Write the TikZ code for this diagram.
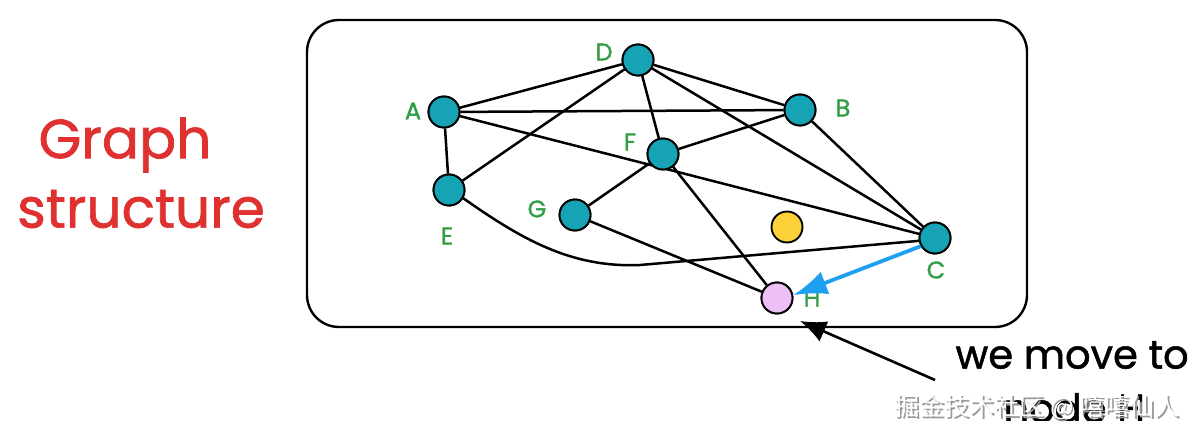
\documentclass[tikz,border=0pt]{standalone}
\usepackage{fontspec}
\setmainfont{Poppins}
\newfontfamily\hand[FakeBold=1.3]{Poppins}
\newfontfamily\cjk{Noto Sans CJK SC}
\usetikzlibrary{arrows.meta}
\definecolor{teal}{HTML}{15A3B5}
\definecolor{ylw}{HTML}{FDD13A}
\definecolor{pnk}{HTML}{EEC0F7}
\definecolor{grn}{HTML}{2F9E44}
\definecolor{rd}{HTML}{E03131}
\definecolor{blu}{HTML}{1EA0F0}
\tikzset{
  vert/.style={circle, draw=black, line width=1.9pt, fill=teal, minimum size=31pt, inner sep=0pt},
  lbl/.style={text=grn, font=\hand\fontsize{24}{24}\selectfont},
  edge/.style={draw=black, line width=2.5pt},
  bigtxt/.style={font=\hand\fontsize{40}{40}\selectfont},
}
\begin{document}
\begin{tikzpicture}[x=1pt,y=-1pt]
\useasboundingbox (0,0) rectangle (1196,435);
% frame
\draw[line width=2.4pt, rounded corners=32pt] (307,20) rectangle (1027,327);
% nodes
\node[vert] (D) at (638,60) {};
\node[vert] (A) at (444,112) {};
\node[vert] (B) at (800,110) {};
\node[vert] (F) at (663,154) {};
\node[vert] (E) at (449,190) {};
\node[vert] (G) at (575,215) {};
\node[vert] (C) at (935,238) {};
\node[vert, fill=ylw] (Y) at (787,227) {};
\node[vert, fill=pnk] (H) at (777,298) {};
% labels
\node[lbl] (lD) at (604,52) {D};
\node[lbl] (lA) at (413,111) {A};
\node[lbl] (lB) at (843,108) {B};
\node[lbl] (lF) at (630,142) {F};
\node[lbl] (lE) at (447,236) {E};
\node[lbl] (lG) at (537,209) {G};
\node[lbl] (lC) at (936,270) {C};
\node[lbl] (lH) at (812,298) {H};
% edges
\draw[edge] (A) -- (D);
\draw[edge] (D) -- (B);
\draw[edge] (A) -- (B);
\draw[edge] (A) -- (E);
\draw[edge] (D) -- (E);
\draw[edge] (D) -- (F);
\draw[edge] (D) -- (C);
\draw[edge] (B) -- (F);
\draw[edge] (B) -- (C);
\draw[edge] (A) -- (C);
\draw[edge] (F) -- (G);
\draw[edge] (F) -- (H);
\draw[edge] (G) -- (H);
\draw[edge] (E.-30) .. controls (520,238) and (570,268) .. (640,265) -- (C.-170);
% redraw nodes on top
\node[vert] at (D) {};
\node[vert] at (A) {};
\node[vert] at (B) {};
\node[vert] at (F) {};
\node[vert] at (E) {};
\node[vert] at (G) {};
\node[vert] at (C) {};
\node[vert, fill=pnk] at (H) {};
% blue arrow
\draw[blu, line width=3.8pt, -{Latex[length=34pt,width=24pt]}] (C.-150) -- (H.10);
% title
\node[text=rd, font=\hand\fontsize{55}{55}\selectfont] (t1) at (125,145) {Graph};
\node[text=rd, font=\hand\fontsize{55}{55}\selectfont] (t2) at (141,209) {structure};
% annotation
\node[bigtxt, anchor=west] (w1) at (952,355) {we move to};
\begin{scope}
\clip (940,370) rectangle (1196,420);
\node[bigtxt, anchor=west] (w2) at (1000,408) {node H};
\end{scope}
\coordinate (tail) at (935,380);
\draw[line width=2.6pt, -{Latex[length=26pt,width=22pt]}] (tail) -- (800,321);
% watermark
\node[text=gray!80, font=\cjk\fontsize{25}{25}\selectfont] (wms) at (1038.8,408.8) {掘金技术社区 @ 嘻嘻仙人};
\node[text=white, font=\cjk\fontsize{25}{25}\selectfont] (wm) at (1037,407) {掘金技术社区 @ 嘻嘻仙人};
\end{tikzpicture}
\end{document}
